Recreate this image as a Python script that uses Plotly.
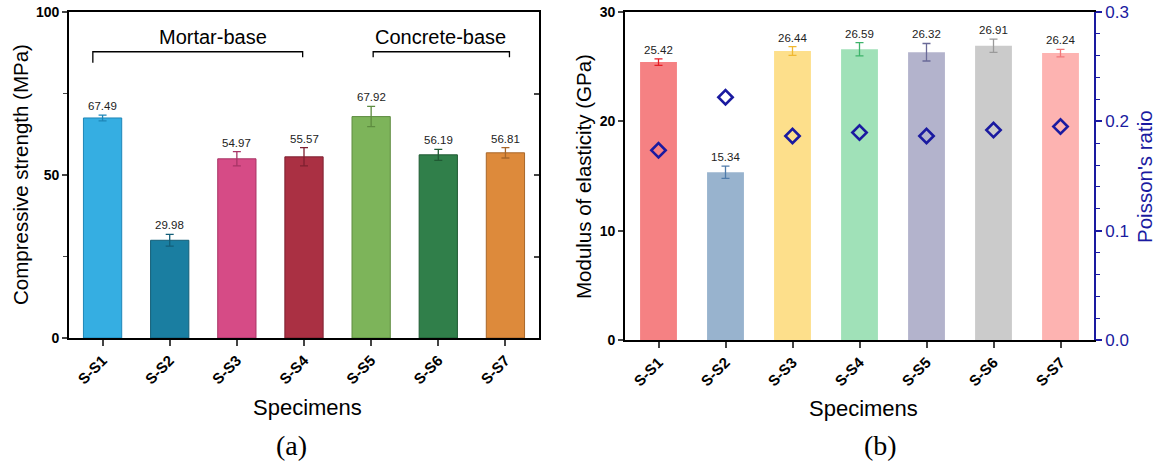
import plotly.graph_objects as go

# Specimen labels
specimens = ["S-S1", "S-S2", "S-S3", "S-S4", "S-S5", "S-S6", "S-S7"]

# (a) Compressive strength, MPa (mean and standard deviation)
strength = [67.49, 29.98, 54.97, 55.57, 67.92, 56.19, 56.81]
strength_err = [0.9, 1.8, 2.2, 2.8, 3.1, 1.7, 1.6]

# (b) Modulus of elasticity, GPa (mean and standard deviation)
modulus = [25.42, 15.34, 26.44, 26.59, 26.32, 26.91, 26.24]
modulus_err = [0.3, 0.56, 0.4, 0.6, 0.8, 0.6, 0.35]

# (b) Poisson's ratio
poisson = [0.1735, 0.222, 0.1866, 0.1897, 0.1866, 0.192, 0.1952]

# Colours
strength_fill = ["#35AEE2", "#1A7EA1", "#D64B86", "#AA3043", "#7DB45A", "#307F4A", "#DD8A3B"]
strength_edge = ["#1E86B8", "#135E78", "#A83566", "#7E2030", "#5E8C40", "#1F5A33", "#A8672A"]
modulus_fill = ["#F58183", "#98B3CE", "#FDDF8B", "#A0E1B8", "#B3B3CC", "#CBCBCB", "#FDB3B1"]
modulus_edge = ["#E51E25", "#4F7BAA", "#F0B830", "#3DB36A", "#6A6A98", "#9A9A9A", "#F2777A"]
blue = "#1A1AA0"

SANS = "Arial, Liberation Sans, sans-serif"
SERIF = "Times New Roman, Liberation Serif, serif"

W, H = 1161, 463
fig = go.Figure()
idx = list(range(len(specimens)))

for i in idx:
    fig.add_trace(go.Bar(
        x=[i], y=[strength[i]], width=0.57,
        marker=dict(color=strength_fill[i], line=dict(color=strength_edge[i], width=1)),
        error_y=dict(type="data", array=[strength_err[i]], color=strength_edge[i],
                     thickness=1.3, width=4),
        xaxis="x", yaxis="y", showlegend=False, hoverinfo="skip"))
    fig.add_trace(go.Bar(
        x=[i], y=[modulus[i]], width=0.55,
        marker=dict(color=modulus_fill[i], line=dict(width=0)),
        error_y=dict(type="data", array=[modulus_err[i]], color=modulus_edge[i],
                     thickness=1.3, width=4),
        xaxis="x2", yaxis="y2", showlegend=False, hoverinfo="skip"))

fig.add_trace(go.Scatter(
    x=idx, y=poisson, mode="markers",
    marker=dict(symbol="diamond-open", size=11, color=blue, line=dict(width=2.6, color="#0A0A9E")),
    xaxis="x2", yaxis="y3", showlegend=False, hoverinfo="skip"))

# Invisible carrier for the inward ticks on the right edge of panel (a)
fig.add_trace(go.Scatter(x=[0], y=[0], mode="markers", marker=dict(opacity=0),
                         xaxis="x", yaxis="y4", showlegend=False, hoverinfo="skip"))

annotations = []
for i in idx:
    annotations.append(dict(x=i, y=strength[i] + strength_err[i], xref="x", yref="y",
                            text=f"{strength[i]:.2f}", showarrow=False, yanchor="bottom",
                            yshift=1, font=dict(family=SANS, size=11.5, color="#222")))
    annotations.append(dict(x=i, y=modulus[i] + modulus_err[i], xref="x2", yref="y2",
                            text=f"{modulus[i]:.2f}", showarrow=False, yanchor="bottom",
                            yshift=1, font=dict(family=SANS, size=11.5, color="#222")))


def paper_label(text, x, y, size, color="black", angle=0, family=SANS):
    return dict(x=x / W, y=1 - y / H, xref="paper", yref="paper", text=text,
                showarrow=False, xanchor="center", yanchor="middle", textangle=angle,
                font=dict(family=family, size=size, color=color))


annotations += [
    paper_label("Compressive strength (MPa)", 20, 175, 20.5, angle=-90),
    paper_label("Modulus of elasticity (GPa)", 584, 177, 20.5, angle=-90),
    paper_label("Poisson's ratio", 1145, 177, 20.5, color=blue, angle=-90),
    paper_label("Specimens", 307, 407, 22),
    paper_label("Specimens", 863, 408, 22),
    paper_label("(a)", 291, 445, 28, family=SERIF),
    paper_label("(b)", 880, 445, 28, family=SERIF),
]

# Group brackets in panel (a)
annotations.append(dict(x=1.65, y=92.4, xref="x", yref="y", text="Mortar-base", showarrow=False,
                        font=dict(family=SANS, size=20, color="black")))
annotations.append(dict(x=5.03, y=92.4, xref="x", yref="y", text="Concrete-base", showarrow=False,
                        font=dict(family=SANS, size=20, color="black")))
shapes = [
    dict(type="path", xref="x", yref="y", path="M -0.145,84.4 L -0.145,87.8 L 2.98,87.8 L 2.98,86.1",
         line=dict(color="black", width=1.3)),
    dict(type="path", xref="x", yref="y", path="M 4.03,86.1 L 4.03,87.8 L 6.06,87.8 L 6.06,86.1",
         line=dict(color="black", width=1.3)),
]

tick_bold = dict(family=SANS, size=14, color="black", weight="bold")
cat_bold = dict(family=SANS, size=15, color="black", weight="bold")

fig.update_layout(
    width=W, height=H, margin=dict(l=0, r=0, t=0, b=0, autoexpand=False),
    paper_bgcolor="white", plot_bgcolor="white", barmode="overlay",
    annotations=annotations, shapes=shapes,
    xaxis=dict(domain=[69 / W, 539 / W], range=[-0.5, 6.5], automargin=False,
               tickvals=idx, ticktext=specimens, tickangle=-45, tickfont=cat_bold,
               ticks="outside", ticklen=6, tickwidth=1.5, showline=True, linewidth=1.8,
               linecolor="black", mirror=True, showgrid=False, zeroline=False),
    yaxis=dict(domain=[1 - 338 / H, 1 - 12 / H], range=[0, 100], tickvals=[0, 50, 100],
               automargin=False,
               tickfont=tick_bold, ticks="outside", ticklen=5, tickwidth=1.5,
               minor=dict(tickvals=[25, 75], ticklen=4, ticks="outside", tickwidth=1.2),
               showline=True, linewidth=1.8, linecolor="black", mirror=True,
               showgrid=False, zeroline=False),
    yaxis4=dict(overlaying="y", side="right", range=[0, 100], tickvals=[25, 50, 75],
                automargin=False,
                ticks="inside", ticklen=5, tickwidth=1.5, showticklabels=False,
                showline=False, showgrid=False, zeroline=False),
    xaxis2=dict(domain=[625 / W, 1094 / W], range=[-0.5, 6.5], anchor="y2",
                automargin=False,
                tickvals=idx, ticktext=specimens, tickangle=-45, tickfont=cat_bold,
                ticks="outside", ticklen=6, tickwidth=1.5, showline=True, linewidth=1.8,
                linecolor="black", mirror=True, showgrid=False, zeroline=False),
    yaxis2=dict(domain=[1 - 340 / H, 1 - 12 / H], range=[0, 30], anchor="x2",
                automargin=False,
                tickvals=[0, 10, 20, 30], tickfont=tick_bold, ticks="outside", ticklen=5,
                tickwidth=1.5, showline=True, linewidth=1.8, linecolor="black",
                showgrid=False, zeroline=False),
    yaxis3=dict(overlaying="y2", side="right", anchor="x2", range=[0, 0.3],
                automargin=False,
                tickvals=[0, 0.1, 0.2, 0.3], tickformat=".1f",
                tickfont=dict(family=SANS, size=17, color=blue), ticks="outside", ticklen=6,
                tickwidth=1.5, tickcolor=blue,
                minor=dict(dtick=0.02, ticklen=4, ticks="outside", tickcolor=blue, tickwidth=1.2),
                showline=True, linewidth=1.8, linecolor=blue, showgrid=False, zeroline=False),
)

fig.write_html("out.html")
